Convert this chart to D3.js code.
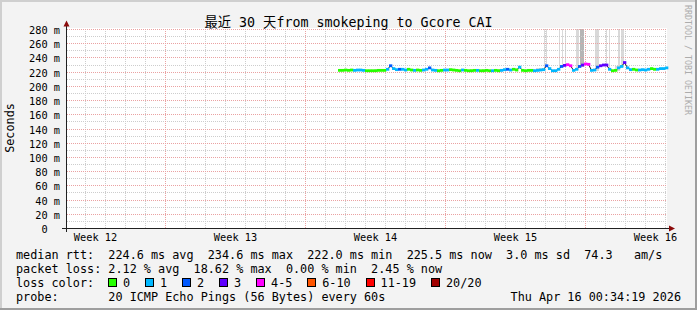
<!DOCTYPE html>
<html>
<head>
<meta charset="utf-8">
<script src="https://cdn.jsdelivr.net/npm/d3@7"></script>
<style>
  body { margin: 0; background: #f3f3f3; }
  svg text { white-space: pre; }
</style>
</head>
<body>
<div id="chart"></div>
<script>
// ---- data ----
const titleText = "最近 30 天from smokeping to Gcore CAI";
const rangeStart = "2026-03-17T00:34:19Z";
const rangeEnd = "2026-04-16T00:34:19Z";
const yMaxMs = 280;

// median rtt, one value every 3.6 h starting at seriesStart
const seriesStart = "2026-03-30T15:00:00Z";
const stepHours = 3.6;
const medianMs = [
    222.5, 222.5, 223, 222.5, 223, 222.5, 223, 223, 222.5, 222,
    222, 222, 222, 222.5, 222.5, 222.5, 224, 229, 225, 223.5,
    224, 224, 223, 224, 223, 222.5, 223, 222.5, 223, 224,
    226, 223, 222.5, 222, 222.5, 223, 223, 223.5, 223, 222.5,
    222, 223, 222.5, 222, 222, 222.5, 222.5, 222, 222, 222.5,
    222, 222, 222.5, 222, 222.5, 223.5, 224, 223, 224, 223,
    227, 222.5, 222, 222.5, 222.5, 222, 222.5, 223, 223.5, 229,
    225, 222, 222, 224, 228, 229.5, 230.5, 229, 222.5, 224,
    228, 230, 231.5, 231, 222.5, 223, 227, 229, 230, 230,
    224, 222, 222.5, 226, 228, 233.5, 226, 223.5, 224, 223,
    223, 223.5, 223, 224, 225, 224, 224, 225, 225, 226
];
// index into lossLabels for every median sample
const lossIdx = [
    0, 0, 0, 0, 0, 1, 1, 1, 1, 0,
    0, 0, 0, 0, 0, 0, 1, 2, 1, 1,
    2, 1, 1, 0, 0, 1, 0, 0, 1, 1,
    2, 1, 1, 0, 0, 1, 1, 0, 0, 0,
    0, 1, 0, 0, 0, 0, 1, 0, 0, 0,
    0, 1, 0, 0, 1, 1, 2, 1, 0, 0,
    1, 0, 0, 0, 0, 1, 1, 1, 1, 2,
    1, 1, 1, 1, 2, 3, 4, 4, 1, 1,
    2, 3, 4, 4, 1, 1, 2, 3, 3, 3,
    1, 0, 0, 1, 1, 3, 1, 1, 0, 0,
    1, 1, 1, 1, 0, 0, 1, 1, 1, 1
];
const lossLabels = ["0", "1", "2", "3", "4-5", "6-10", "11-19", "20/20"];
const lossColors = ["#26ff00", "#00b8ff", "#0059ff", "#5e00ff", "#ff00ff", "#ff5500", "#ff0000", "#a10000"];

// smoke (spread of the 20 pings), hours after seriesStart
const smokeStartH = [18, 44.4, 91.2, 114, 158.4, 172.8, 190.8, 208.8, 226.8, 237.6, 247.2, 249.6,
    265.2, 268.8, 272.4, 285.6, 290.4, 308.4, 321.6, 325.2, 332.4, 336, 339.6, 372];
const smokeLenH = [6, 3.6, 4.8, 6, 8.4, 6, 6, 6, 9.6, 8.4, 1.2, 1.2,
    1.2, 1.2, 1.2, 3.6, 4.8, 4.8, 1.2, 1.2, 6, 2.4, 3.6, 6];
const smokeTopMs = [224.5, 224.5, 225, 225, 225, 224.5, 225, 225.5, 225, 226, 300, 300,
    300, 300, 300, 300, 300, 300, 300, 300, 228, 300, 300, 226];
const smokeDensity = [1, 1, 1, 1, 1, 1, 1, 1, 1, 1, 1, 1,
    1, 1, 1, 1, 2, 1, 1, 1, 1, 1, 1, 1];

const legendRtt = "median rtt:  224.6 ms avg  234.6 ms max  222.0 ms min  225.5 ms now  3.0 ms sd  74.3   am/s";
const legendLoss = "packet loss: 2.12 % avg  18.62 % max  0.00 % min  2.45 % now";
const legendProbe = "probe:       20 ICMP Echo Pings (56 Bytes) every 60s";
const stampText = "Thu Apr 16 00:34:19 2026";

// ---- drawing ----
const W = 697, H = 310;
const mono = "'DejaVu Sans Mono', monospace";
const crisp = v => Math.floor(v) + 0.5;

const x = d3.scaleUtc()
    .domain([new Date(rangeStart), new Date(rangeEnd)])
    .range([66, 666]);
const y = d3.scaleLinear()
    .domain([0, yMaxMs])
    .range([228.5, 29.5]);

const t0 = new Date(seriesStart);
const hoursAfter = h => new Date(t0.getTime() + h * 3600e3);
const samples = medianMs.map((m, i) => ({
    t0: hoursAfter(i * stepHours),
    t1: hoursAfter((i + 1) * stepHours),
    mid: hoursAfter((i + 0.5) * stepHours),
    v: m,
    loss: lossIdx[i]
}));

const svg = d3.select("#chart").append("svg")
    .attr("width", W)
    .attr("height", H)
    .style("display", "block");

svg.append("rect").attr("width", W).attr("height", H).attr("fill", "#f3f3f3");
svg.append("rect").attr("x", 0).attr("y", 0).attr("width", W).attr("height", 2).attr("fill", "#cfcfcf");
svg.append("rect").attr("x", 0).attr("y", 0).attr("width", 2).attr("height", H).attr("fill", "#cfcfcf");
svg.append("rect").attr("x", 0).attr("y", H - 2).attr("width", W).attr("height", 2).attr("fill", "#9e9e9e");
svg.append("rect").attr("x", W - 2).attr("y", 0).attr("width", 2).attr("height", H).attr("fill", "#9e9e9e");

// plot canvas
svg.append("rect")
    .attr("x", 66).attr("y", 28)
    .attr("width", 601).attr("height", 201)
    .attr("fill", "#ffffff");

const defs = svg.append("defs");
defs.append("clipPath").attr("id", "plotclip")
    .append("rect").attr("x", 66).attr("y", 29).attr("width", 601).attr("height", 200);

// smoke
const plot = svg.append("g").attr("clip-path", "url(#plotclip)");
const smokeColor = d3.scaleOrdinal().domain([1, 2]).range(["#d9d9d9", "#b5b5b5"]);
const medianAt = h => medianMs[Math.min(medianMs.length - 1, Math.floor(h / stepHours))];

plot.append("g")
    .selectAll("rect")
    .data(smokeStartH.map((h, i) => ({ h: h, len: smokeLenH[i], top: smokeTopMs[i], d: smokeDensity[i] })))
    .join("rect")
    .attr("x", d => x(hoursAfter(d.h)))
    .attr("width", d => Math.max(1, x(hoursAfter(d.h + d.len)) - x(hoursAfter(d.h))))
    .attr("y", d => y(Math.min(d.top, yMaxMs + 5)))
    .attr("height", d => y(medianAt(d.h) - 1) - y(Math.min(d.top, yMaxMs + 5)))
    .attr("fill", d => smokeColor(d.d))
    .attr("shape-rendering", "crispEdges");

// grid
const grid = svg.append("g").attr("shape-rendering", "crispEdges").attr("stroke-dasharray", "1,1");
const majorY = y.ticks(14);
const minorY = y.ticks(28).filter(v => majorY.indexOf(v) < 0);
const days = d3.utcDay.range(x.domain()[0], x.domain()[1]);
const weeks = d3.utcSunday.range(x.domain()[0], x.domain()[1]);
const minorX = days.filter(d => !weeks.some(w => +w === +d));

grid.append("g").selectAll("line").data(minorY).join("line")
    .attr("x1", 67).attr("x2", 667)
    .attr("y1", d => crisp(y(d))).attr("y2", d => crisp(y(d)))
    .attr("stroke", "#cdcdcd");
grid.append("g").selectAll("line").data(minorX).join("line")
    .attr("x1", d => crisp(x(d))).attr("x2", d => crisp(x(d)))
    .attr("y1", 29).attr("y2", 228)
    .attr("stroke", "#cdcdcd");
grid.append("g").selectAll("line").data(majorY.filter(v => v > 0)).join("line")
    .attr("x1", 67).attr("x2", 667)
    .attr("y1", d => crisp(y(d))).attr("y2", d => crisp(y(d)))
    .attr("stroke", "#eaa2a2");
grid.append("g").selectAll("line").data(weeks).join("line")
    .attr("x1", d => crisp(x(d))).attr("x2", d => crisp(x(d)))
    .attr("y1", 29).attr("y2", 228)
    .attr("stroke", "#eaa2a2");

// median line (black) and loss-coloured bands
const pxPerMs = (y(0) - y(yMaxMs)) / yMaxMs;
const halfBand = 1.4 / pxPerMs;

svg.append("path")
    .datum(samples)
    .attr("fill", "none")
    .attr("stroke", "#202020")
    .attr("stroke-width", 1)
    .attr("d", d3.line().x(d => x(d.mid)).y(d => y(d.v)));

svg.append("g")
    .selectAll("rect")
    .data(samples)
    .join("rect")
    .attr("x", d => x(d.t0))
    .attr("width", d => x(d.t1) - x(d.t0) + 0.3)
    .attr("y", d => y(d.v + halfBand))
    .attr("height", d => y(d.v - halfBand) - y(d.v + halfBand))
    .attr("fill", d => lossColors[d.loss]);

// axes
const axisColor = "#202020";
const arrowColor = "#8b0a0a";
svg.append("line").attr("x1", 62).attr("x2", 669).attr("y1", 228.5).attr("y2", 228.5)
    .attr("stroke", axisColor).attr("shape-rendering", "crispEdges");
svg.append("line").attr("x1", 66.5).attr("x2", 66.5).attr("y1", 232).attr("y2", 25)
    .attr("stroke", axisColor).attr("shape-rendering", "crispEdges");
svg.append("path").attr("d", "M63.5,26.5 L69.5,26.5 L66.5,20.5 Z").attr("fill", arrowColor);
svg.append("path").attr("d", "M669,225.5 L669,231.5 L675,228.5 Z").attr("fill", arrowColor);

// y labels
svg.append("g")
    .selectAll("text")
    .data(majorY)
    .join("text")
    .attr("x", 60)
    .attr("y", d => y(d) + 4.5)
    .attr("text-anchor", "end")
    .attr("font-family", mono)
    .attr("font-size", "10.3px")
    .attr("fill", "#000")
    .text(d => d + " " + (d === 0 ? "\u00a0" : "m"));

// week labels, centred on Wednesday noon
const weekMids = d3.utcWednesday.range(x.domain()[0], x.domain()[1]).map(d => d3.utcHour.offset(d, 12));
svg.append("g")
    .selectAll("text")
    .data(weekMids)
    .join("text")
    .attr("x", d => x(d))
    .attr("y", 241)
    .attr("text-anchor", "middle")
    .attr("font-family", mono)
    .attr("font-size", "10.3px")
    .attr("fill", "#000")
    .text(d => "Week " + d3.utcFormat("%V")(d));

// title, unit label, watermark
svg.append("text")
    .attr("x", 348.5).attr("y", 26.5)
    .attr("text-anchor", "middle")
    .attr("font-family", "'DejaVu Sans Mono', 'Noto Sans CJK SC', monospace")
    .attr("font-size", "13.3px")
    .attr("fill", "#000")
    .text(titleText);

svg.append("text")
    .attr("transform", "translate(14,128) rotate(-90)")
    .attr("text-anchor", "middle")
    .attr("font-family", mono)
    .attr("font-size", "11.8px")
    .attr("fill", "#000")
    .text("Seconds");

svg.append("text")
    .attr("transform", "translate(684.5,5) rotate(90)")
    .attr("font-family", mono)
    .attr("font-size", "8.3px")
    .attr("fill", "#acacac")
    .text("RRDTOOL / TOBI OETIKER");

// legend
const legend = svg.append("g")
    .attr("font-family", mono)
    .attr("font-size", "11.8px")
    .attr("fill", "#000");
legend.append("text").attr("x", 16).attr("y", 259).text(legendRtt);
legend.append("text").attr("x", 16).attr("y", 273).text(legendLoss);
legend.append("text").attr("x", 16).attr("y", 287).text("loss color:");
legend.append("text").attr("x", 16).attr("y", 301).text(legendProbe);
legend.append("text").attr("x", 681).attr("y", 301).attr("text-anchor", "end").text(stampText);

let lx = 108;
lossLabels.forEach((lab, i) => {
    legend.append("rect")
        .attr("x", lx + 0.5).attr("y", 278.5)
        .attr("width", 8).attr("height", 8)
        .attr("fill", lossColors[i])
        .attr("stroke", "#000")
        .attr("shape-rendering", "crispEdges");
    const t = legend.append("text").attr("x", lx + 15).attr("y", 287).text(lab);
    lx = lx + 15 + t.node().getComputedTextLength() + 14.9;
});
</script>
</body>
</html>
